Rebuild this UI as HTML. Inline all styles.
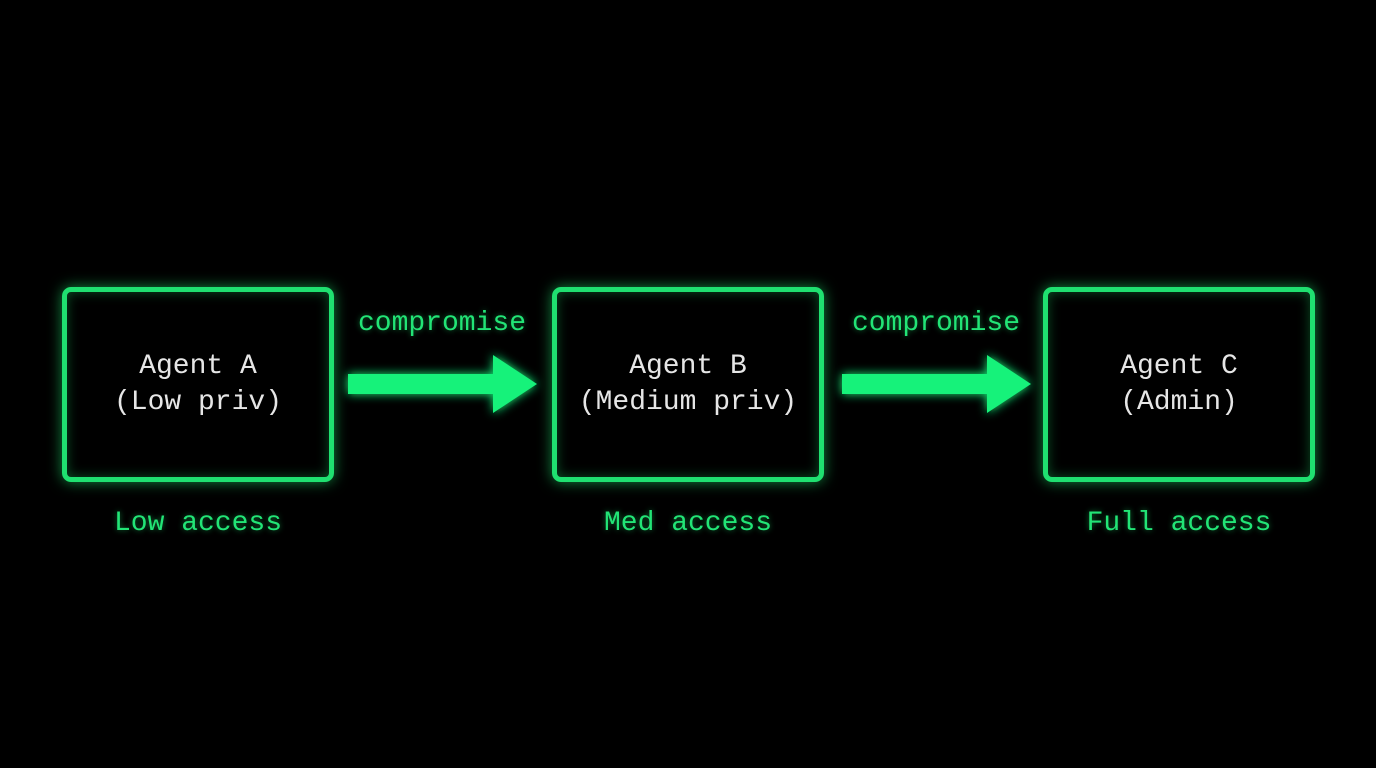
<!DOCTYPE html>
<html><head><style>
html,body{margin:0;padding:0;background:#000;width:1376px;height:768px;overflow:hidden;font-family:"Liberation Mono","DejaVu Sans Mono",monospace;}
.box{position:absolute;top:287px;width:262px;height:185px;border:5px solid #1fe070;border-radius:9px;box-shadow:0 0 14px rgba(30,230,110,.6),inset 0 0 12px rgba(30,230,110,.35);}
.t{position:absolute;width:300px;text-align:center;font-size:28px;line-height:36px;color:#e6e6e6;}
.g{position:absolute;width:300px;text-align:center;font-size:28px;color:#22e476;text-shadow:0 0 6px rgba(30,230,110,.5);}
svg{position:absolute;left:0;top:0}
</style></head><body>
<div class="box" style="left:62px"></div>
<div class="box" style="left:552px"></div>
<div class="box" style="left:1043px"></div>
<div class="t" style="left:48px;top:349px">Agent A<br>(Low priv)</div>
<div class="t" style="left:538px;top:349px">Agent B<br>(Medium priv)</div>
<div class="t" style="left:1029px;top:349px">Agent C<br>(Admin)</div>
<div class="g" style="left:48px;top:508px">Low access</div>
<div class="g" style="left:538px;top:508px">Med access</div>
<div class="g" style="left:1029px;top:508px">Full access</div>
<div class="g" style="left:292px;top:308px">compromise</div>
<div class="g" style="left:786px;top:308px">compromise</div>
<svg width="1376" height="768">
<defs><filter id="gl" x="-20%" y="-50%" width="140%" height="200%"><feGaussianBlur stdDeviation="5" result="b"/><feMerge><feMergeNode in="b"/><feMergeNode in="SourceGraphic"/></feMerge></filter></defs>
<g fill="#14f27a" filter="url(#gl)">
<polygon points="348,374 493,374 493,355 537,384 493,413 493,394 348,394"/>
<polygon points="842,374 987,374 987,355 1031,384 987,413 987,394 842,394"/>
</g>
</svg>
</body></html>
